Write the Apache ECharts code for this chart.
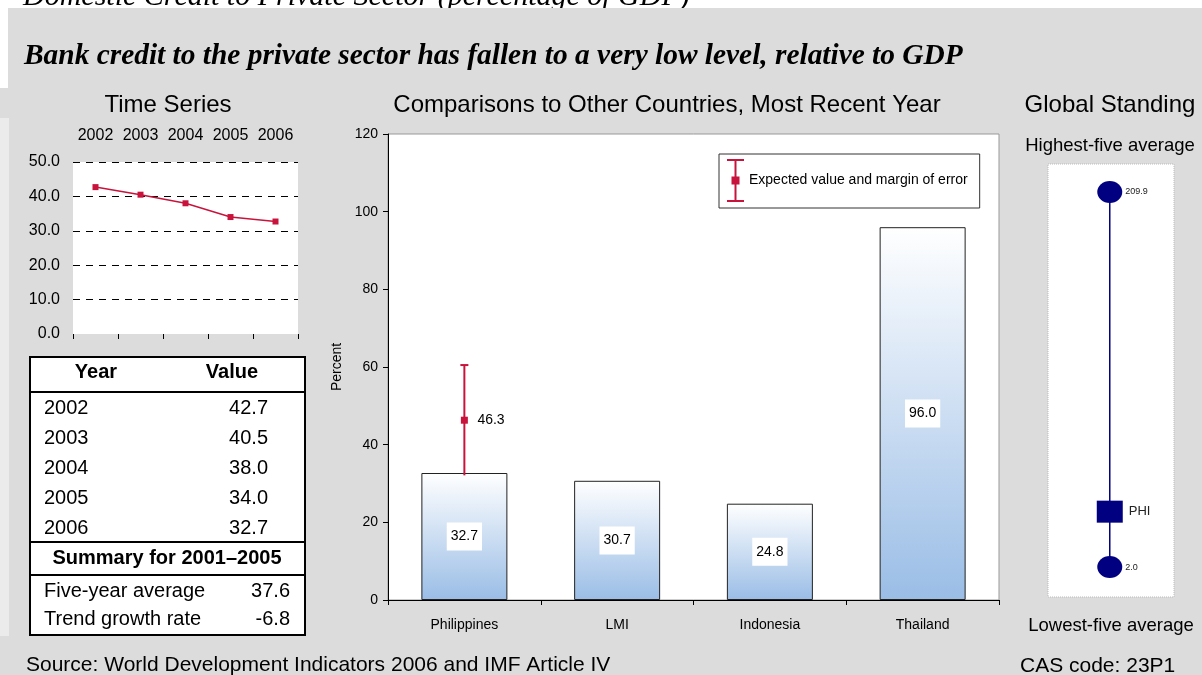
<!DOCTYPE html>
<html>
<head>
<meta charset="utf-8">
<script src="https://cdn.jsdelivr.net/npm/echarts@6/dist/echarts.min.js"></script>
<style>
  html, body { margin: 0; padding: 0; background: #ffffff; }
  #chart { width: 1202px; height: 675px; }
</style>
</head>
<body>
<div id="chart"></div>
<script>
// ---- data ----
const tsYears = ['2002', '2003', '2004', '2005', '2006'];
const tsValues = [42.7, 40.5, 38.0, 34.0, 32.7];
const summaryLabels = ['Five-year average', 'Trend growth rate'];
const summaryValues = [37.6, -6.8];
const summaryTitle = 'Summary for 2001\u20132005';

const countries = ['Philippines', 'LMI', 'Indonesia', 'Thailand'];
const countryValues = [32.7, 30.7, 24.8, 96.0];
const expectedValue = 46.3;   // Philippines, expected value
const errorMargin = 14.2;     // margin of error around it

const globalHigh = 209.9;     // highest-five average
const globalLow = 2.0;        // lowest-five average
const countryCode = 'PHI';
const countryValue = 32.7;

// ---- styling ----
const SANS = '"Liberation Sans", Arial, sans-serif';
const SERIF = '"Liberation Serif", "Times New Roman", serif';
const CRIMSON = '#C8143C';
const NAVY = '#000080';
const PANEL = '#dcdcdc';

const ERR_ICON = 'path://M0,0H17V2H0Z M0,41H17V43H0Z M7.5,0H9.5V43H7.5Z M4.5,17.5H12.5V25.5H4.5Z';

function txt(text, x, y, size, opts) {
  opts = opts || {};
  return {
    type: 'text', z: opts.z != null ? opts.z : 10, silent: true,
    style: {
      text: text, x: x, y: y,
      fontSize: size, fontFamily: opts.family || SANS,
      fontWeight: opts.weight || 'normal', fontStyle: opts.style || 'normal',
      fill: opts.fill || '#000',
      align: opts.align || 'left', verticalAlign: opts.valign || 'middle'
    }
  };
}
function hline(x1, x2, y, w) {
  return { type: 'line', z: 11, silent: true, shape: { x1: x1, y1: y, x2: x2, y2: y }, style: { stroke: '#000', lineWidth: w } };
}

// ---- table under the time series ----
const tbl = { left: 30, right: 305, top: 357, bottom: 635 };
const tableEls = [
  { type: 'rect', z: 9, silent: true, shape: { x: tbl.left, y: tbl.top, width: tbl.right - tbl.left, height: tbl.bottom - tbl.top },
    style: { fill: '#fff', stroke: '#000', lineWidth: 2 } },
  hline(tbl.left, tbl.right, 392, 2),
  hline(tbl.left, tbl.right, 542, 2),
  hline(tbl.left, tbl.right, 575, 2),
  txt('Year', 96, 372, 20, { weight: 'bold', align: 'center' }),
  txt('Value', 232, 372, 20, { weight: 'bold', align: 'center' }),
  txt(summaryTitle, 167, 558, 20, { weight: 'bold', align: 'center' })
];
tsYears.forEach(function (y, i) {
  tableEls.push(txt(y, 44, 408 + 30 * i, 20));
  tableEls.push(txt(tsValues[i].toFixed(1), 268, 408 + 30 * i, 20, { align: 'right' }));
});
summaryLabels.forEach(function (s, i) {
  tableEls.push(txt(s, 44, 591 + 28 * i, 20));
  tableEls.push(txt(summaryValues[i].toFixed(1), 290, 591 + 28 * i, 20, { align: 'right' }));
});

// ---- error bar renderer ----
function renderErrorBar(params, api) {
  const x = api.value(0);
  const lo = api.coord([x, api.value(1)]);
  const hi = api.coord([x, api.value(2)]);
  const mid = api.coord([x, api.value(3)]);
  const color = api.visual('color');
  return {
    type: 'group',
    children: [
      { type: 'line', shape: { x1: hi[0], y1: hi[1], x2: lo[0], y2: lo[1] }, style: { stroke: color, lineWidth: 2 } },
      { type: 'line', shape: { x1: hi[0] - 4, y1: hi[1], x2: hi[0] + 4, y2: hi[1] }, style: { stroke: color, lineWidth: 2 } },
      { type: 'rect', shape: { x: mid[0] - 3.5, y: mid[1] - 3.5, width: 7, height: 7 }, style: { fill: color } },
      { type: 'text', style: { text: api.value(3).toFixed(1), x: mid[0] + 13, y: mid[1], verticalAlign: 'middle',
        fontSize: 14, fontFamily: SANS, fill: '#000' } }
    ]
  };
}

const chart = echarts.init(document.getElementById('chart'), null, { renderer: 'canvas' });

const option = {
  animation: false,
  backgroundColor: PANEL,
  textStyle: { fontFamily: SANS },
  grid: [
    { left: 73, top: 162, width: 225, height: 172, show: true, backgroundColor: '#fff', borderWidth: 0 },
    { left: 388, top: 134, width: 611, height: 466, show: true, backgroundColor: '#fff', borderColor: '#999', borderWidth: 1 },
    { left: 1048, top: 164, width: 126, height: 433, show: true, backgroundColor: '#fff', borderWidth: 0 }
  ],
  xAxis: [
    { type: 'category', gridIndex: 0, data: tsYears, position: 'bottom',
      axisLine: { show: false }, axisTick: { show: true, length: 5, lineStyle: { color: '#000' } },
      axisLabel: { show: false } },
    { type: 'category', gridIndex: 0, data: tsYears, position: 'top',
      axisLine: { show: false }, axisTick: { show: false },
      axisLabel: { color: '#000', fontSize: 16, fontFamily: SANS, margin: 18, interval: 0 } },
    { type: 'category', gridIndex: 1, data: countries,
      axisLine: { show: true, lineStyle: { color: '#000' } },
      axisTick: { show: true, length: 5, lineStyle: { color: '#000' } },
      axisLabel: { color: '#000', fontSize: 14, fontFamily: SANS, margin: 18, interval: 0 } },
    { type: 'value', gridIndex: 2, min: -1, max: 1.04, show: false }
  ],
  yAxis: [
    { type: 'value', gridIndex: 0, min: 0, max: 50, interval: 10,
      axisLine: { show: false }, axisTick: { show: false },
      axisLabel: { color: '#000', fontSize: 16, fontFamily: SANS, margin: 13, formatter: function (v) { return v.toFixed(1); } },
      splitLine: { show: true, showMinLine: false, lineStyle: { color: '#000', width: 1, type: [7, 6] } } },
    { type: 'value', gridIndex: 1, min: 0, max: 120, interval: 20,
      name: 'Percent', nameLocation: 'middle', nameGap: 44, nameRotate: 90,
      nameTextStyle: { color: '#000', fontSize: 14, fontFamily: SANS },
      axisLine: { show: true, lineStyle: { color: '#000' } },
      axisTick: { show: true, length: 5, lineStyle: { color: '#000' } },
      axisLabel: { color: '#000', fontSize: 14, fontFamily: SANS, margin: 10 },
      splitLine: { show: false } },
    { type: 'value', gridIndex: 2, min: -14.6, max: 225.4, show: false }
  ],
  legend: {
    data: [{ name: 'Expected value and margin of error', icon: ERR_ICON }],
    left: 719, top: 154, padding: [5, 12, 6, 8],
    itemWidth: 17, itemHeight: 43, selectedMode: false,
    backgroundColor: '#fff', borderColor: '#333', borderWidth: 1,
    textStyle: { color: '#000', fontSize: 14, fontFamily: SANS }
  },
  series: [
    { type: 'line', name: 'Time series', xAxisIndex: 0, yAxisIndex: 0, data: tsValues,
      symbol: 'rect', symbolSize: 6, lineStyle: { color: CRIMSON, width: 1.5 }, itemStyle: { color: CRIMSON } },
    { type: 'bar', name: 'Most recent year', xAxisIndex: 2, yAxisIndex: 1, data: countryValues, barWidth: 86,
      itemStyle: {
        color: new echarts.graphic.LinearGradient(0, 0, 0, 1, [
          { offset: 0, color: '#ffffff' }, { offset: 1, color: '#9abde6' }
        ]),
        borderColor: '#222', borderWidth: 1
      },
      label: { show: true, position: 'inside', backgroundColor: '#fff', padding: [7, 4, 7, 4],
        color: '#000', fontSize: 14, fontFamily: SANS,
        formatter: function (p) { return p.value.toFixed(1); } } },
    { type: 'custom', name: 'Expected value and margin of error', xAxisIndex: 2, yAxisIndex: 1, z: 5,
      data: [[0, expectedValue - errorMargin, expectedValue + errorMargin, expectedValue]],
      itemStyle: { color: CRIMSON }, renderItem: renderErrorBar },
    { type: 'line', name: 'Range', xAxisIndex: 3, yAxisIndex: 2, data: [[0, globalLow], [0, globalHigh]],
      symbol: 'none', lineStyle: { color: NAVY, width: 1.5 }, silent: true },
    { type: 'scatter', name: 'Extremes', xAxisIndex: 3, yAxisIndex: 2, data: [[0, globalHigh], [0, globalLow]],
      symbol: 'circle', symbolSize: [25, 22], itemStyle: { color: NAVY, opacity: 1 },
      label: { show: true, position: 'right', distance: 3, fontSize: 9, color: '#222', fontFamily: SANS,
        formatter: function (p) { return p.value[1].toFixed(1); } } },
    { type: 'scatter', name: countryCode, xAxisIndex: 3, yAxisIndex: 2, data: [[0, countryValue]],
      symbol: 'rect', symbolSize: [26, 22], itemStyle: { color: NAVY, opacity: 1 },
      label: { show: true, position: 'right', distance: 6, fontSize: 13, color: '#222', fontFamily: SANS,
        formatter: function () { return countryCode; } } }
  ],
  graphic: [
    { type: 'rect', z: 0, silent: true, shape: { x: 0, y: 0, width: 1202, height: 8 }, style: { fill: '#fff' } },
    { type: 'rect', z: 0, silent: true, shape: { x: 0, y: 0, width: 8, height: 88 }, style: { fill: '#fff' } },
    { type: 'rect', z: 0, silent: true, shape: { x: 0, y: 118, width: 9, height: 518 }, style: { fill: '#ebebeb' } },
    txt('Domestic Credit to Private Sector (percentage of GDP)', 23, -3, 30, { family: SERIF, style: 'italic', z: 1 }),
    { type: 'rect', z: 2, silent: true, shape: { x: 8, y: 8, width: 1194, height: 22 }, style: { fill: PANEL } },
    txt('Bank credit to the private sector has fallen to a very low level, relative to GDP', 24, 56, 29.4,
      { family: SERIF, style: 'italic', weight: 'bold' }),
    txt('Time Series', 168, 105, 24, { align: 'center' }),
    txt('Comparisons to Other Countries, Most Recent Year', 667, 105, 24, { align: 'center' }),
    txt('Global Standing', 1110, 105, 24, { align: 'center' }),
    txt('Highest-five average', 1110, 146, 18.5, { align: 'center' }),
    txt('Lowest-five average', 1111, 626, 18.5, { align: 'center' }),
    { type: 'rect', z: 10, silent: true, shape: { x: 1048, y: 164, width: 126, height: 433 },
      style: { fill: 'none', stroke: '#bbbbbb', lineWidth: 1, lineDash: [1, 1] } },
    txt('Source: World Development Indicators 2006 and IMF Article IV', 26, 665, 21),
    txt('CAS code: 23P1', 1020, 666, 21)
  ].concat(tableEls)
};

chart.setOption(option);
</script>
</body>
</html>
